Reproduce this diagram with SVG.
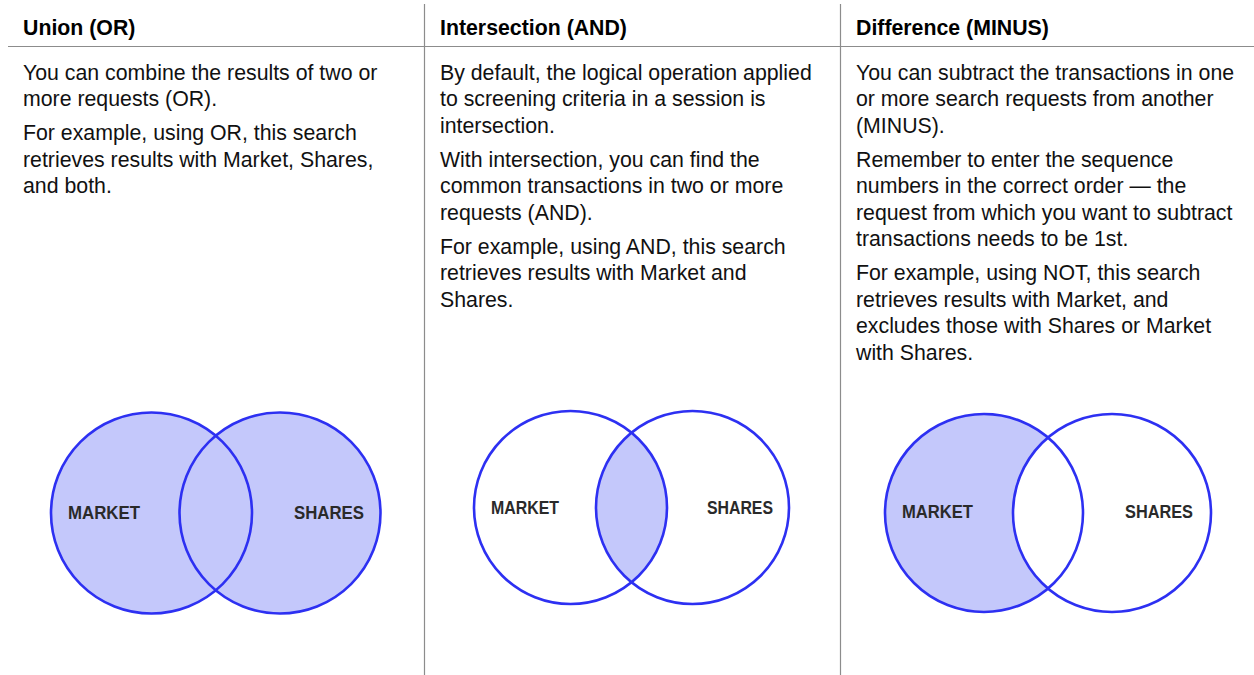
<svg xmlns="http://www.w3.org/2000/svg" width="1254" height="675" viewBox="0 0 1254 675">
  <defs>
    <style>
      .hdr { font-family: "Liberation Sans", Arial, sans-serif; font-size: 21.3px; font-weight: bold; fill: #000; }
      .body { font-family: "Liberation Sans", Arial, sans-serif; font-size: 21.3px; fill: #111; }
      .lbl { font-family: "Liberation Sans", Arial, sans-serif; font-size: 17.5px; font-weight: bold; fill: #2a2a2a; }
      .rule { stroke: #8c8c8c; stroke-width: 1.2; fill: none; }
      .ring { fill: none; stroke: #2d30f2; stroke-width: 2.6; }
      .shade { fill: #c4c8fb; }
    </style>
    <clipPath id="clipAndRight">
      <circle cx="692.5" cy="507.5" r="96.5"/>
    </clipPath>
  </defs>
  <rect width="1254" height="675" fill="#ffffff"/>

  <g id="table-rules">
    <line class="rule" x1="8" y1="46.5" x2="1254" y2="46.5"/>
    <line class="rule" x1="424.5" y1="4" x2="424.5" y2="675"/>
    <line class="rule" x1="840.5" y1="4" x2="840.5" y2="675"/>
  </g>

  <g id="col-union">
    <text class="hdr" x="23" y="35">Union (OR)</text>
    <text class="body" x="23" y="79.5">You can combine the results of two or</text>
    <text class="body" x="23" y="106">more requests (OR).</text>
    <text class="body" x="23" y="140">For example, using OR, this search</text>
    <text class="body" x="23" y="166.5">retrieves results with Market, Shares,</text>
    <text class="body" x="23" y="193">and both.</text>
    <g id="venn-union">
      <circle class="shade" cx="151.5" cy="513" r="100.5"/>
      <circle class="shade" cx="280" cy="513" r="100.5"/>
      <circle class="ring" cx="151.5" cy="513" r="100.5"/>
      <circle class="ring" cx="280" cy="513" r="100.5"/>
      <text class="lbl" x="68" y="519" textLength="72" lengthAdjust="spacingAndGlyphs">MARKET</text>
      <text class="lbl" x="294" y="519" textLength="70" lengthAdjust="spacingAndGlyphs">SHARES</text>
    </g>
  </g>

  <g id="col-intersection">
    <text class="hdr" x="440" y="35">Intersection (AND)</text>
    <text class="body" x="440" y="79.5">By default, the logical operation applied</text>
    <text class="body" x="440" y="106">to screening criteria in a session is</text>
    <text class="body" x="440" y="132.5">intersection.</text>
    <text class="body" x="440" y="166.5">With intersection, you can find the</text>
    <text class="body" x="440" y="193">common transactions in two or more</text>
    <text class="body" x="440" y="219.5">requests (AND).</text>
    <text class="body" x="440" y="253.5">For example, using AND, this search</text>
    <text class="body" x="440" y="280">retrieves results with Market and</text>
    <text class="body" x="440" y="306.5">Shares.</text>
    <g id="venn-intersection">
      <circle class="shade" cx="570.5" cy="507.5" r="96.5" clip-path="url(#clipAndRight)"/>
      <circle class="ring" cx="570.5" cy="507.5" r="96.5"/>
      <circle class="ring" cx="692.5" cy="507.5" r="96.5"/>
      <text class="lbl" x="491" y="514" textLength="68" lengthAdjust="spacingAndGlyphs">MARKET</text>
      <text class="lbl" x="707" y="514" textLength="66" lengthAdjust="spacingAndGlyphs">SHARES</text>
    </g>
  </g>

  <g id="col-difference">
    <text class="hdr" x="856" y="35">Difference (MINUS)</text>
    <text class="body" x="856" y="79.5">You can subtract the transactions in one</text>
    <text class="body" x="856" y="106">or more search requests from another</text>
    <text class="body" x="856" y="132.5">(MINUS).</text>
    <text class="body" x="856" y="166.5">Remember to enter the sequence</text>
    <text class="body" x="856" y="193">numbers in the correct order — the</text>
    <text class="body" x="856" y="219.5">request from which you want to subtract</text>
    <text class="body" x="856" y="246">transactions needs to be 1st.</text>
    <text class="body" x="856" y="280">For example, using NOT, this search</text>
    <text class="body" x="856" y="306.5">retrieves results with Market, and</text>
    <text class="body" x="856" y="333">excludes those with Shares or Market</text>
    <text class="body" x="856" y="359.5">with Shares.</text>
    <g id="venn-difference">
      <circle class="shade" cx="984" cy="513" r="99"/>
      <circle fill="#ffffff" cx="1112" cy="513" r="99"/>
      <circle class="ring" cx="984" cy="513" r="99"/>
      <circle class="ring" cx="1112" cy="513" r="99"/>
      <text class="lbl" x="902" y="518" textLength="71" lengthAdjust="spacingAndGlyphs">MARKET</text>
      <text class="lbl" x="1125" y="518" textLength="68" lengthAdjust="spacingAndGlyphs">SHARES</text>
    </g>
  </g>
</svg>
